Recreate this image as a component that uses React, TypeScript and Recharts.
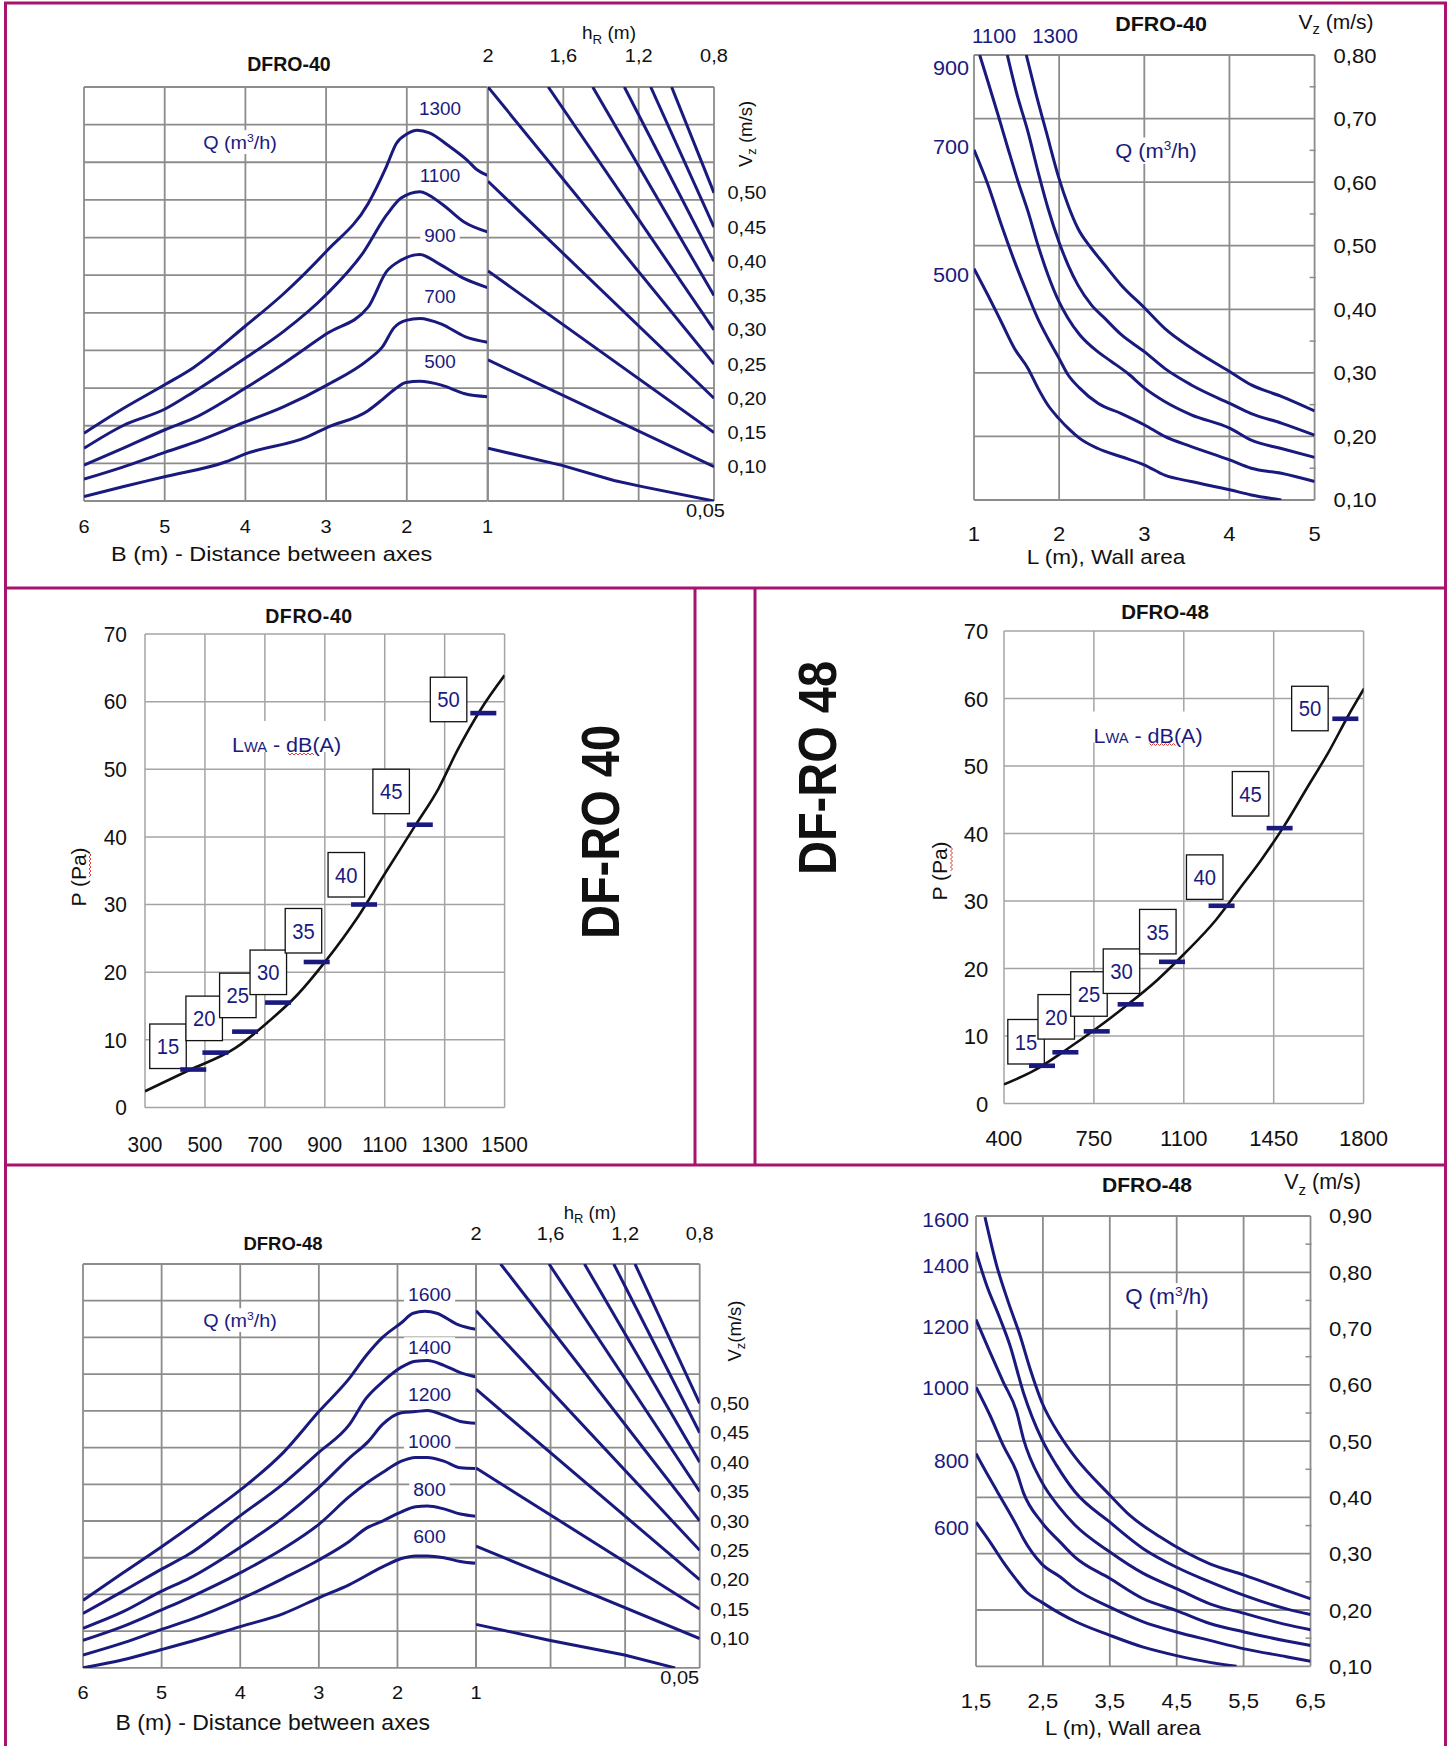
import React from 'react';
import { LineChart, ComposedChart, Line, Scatter, XAxis, YAxis, CartesianGrid } from 'recharts';

const FONT = '"Liberation Sans", Arial, Helvetica, sans-serif';
const NAVY = '#1a1a7e';
const INK = '#111111';
const GRID_DARK = '#8c8c8c';
const GRID_LIGHT = '#a4a4a4';
const FRAME = '#a6146e';
const SQUIGGLE = '#e23a3a';
const PAD = 90;

// ======================= DATA =======================
// --- Top-left: DFRO-40, Q curves vs B (m) (grid rows), lines vs hR (m) on Vz (m/s)
const A_GRID_ROWS = [0, 1, 2, 3, 4, 5, 6, 7, 8, 9, 10, 11];
const A_B_TICKS = [6, 5, 4, 3, 2, 1];
const A_HR_TICKS = [2, 1.6, 1.2, 0.8];
const A_VZ_TICKS = [0.05, 0.1, 0.15, 0.2, 0.25, 0.3, 0.35, 0.4, 0.45, 0.5];
const A_VZ_TOP = 0.6546;
const A_Q_NAMES = ['1300', '1100', '900', '700', '500'];
const A_Q1300 = [[6, 1.8], [5.52, 2.45], [4.99, 3.1], [4.64, 3.55], [4.0, 4.65], [3.53, 5.5], [2.99, 6.65], [2.48, 7.9], [2.25, 8.9], [2.13, 9.5], [2.0, 9.75], [1.87, 9.85], [1.72, 9.78], [1.49, 9.45], [1.25, 9.05], [1.13, 8.8], [1.0, 8.65]];
const A_Q1100 = [[6, 1.4], [5.52, 2.0], [4.99, 2.45], [4.64, 2.9], [4.0, 3.8], [3.53, 4.5], [2.99, 5.5], [2.54, 6.6], [2.25, 7.6], [2.07, 8.05], [1.84, 8.22], [1.57, 7.9], [1.28, 7.4], [1.0, 7.15]];
const A_Q900 = [[6, 0.95], [5.52, 1.4], [4.99, 1.9], [4.64, 2.2], [4.0, 3.0], [3.53, 3.65], [2.99, 4.45], [2.48, 5.15], [2.25, 6.1], [2.07, 6.4], [1.84, 6.55], [1.6, 6.3], [1.28, 5.9], [1.0, 5.67]];
const A_Q700 = [[6, 0.58], [5.52, 0.9], [4.99, 1.3], [4.64, 1.55], [4.0, 2.1], [3.53, 2.5], [2.99, 3.08], [2.48, 3.75], [2.3, 4.1], [2.16, 4.6], [2.01, 4.8], [1.84, 4.85], [1.57, 4.7], [1.28, 4.37], [1.0, 4.22]];
const A_Q500 = [[6, 0.12], [5.52, 0.38], [4.99, 0.65], [4.23, 1.05], [4.0, 1.25], [3.24, 1.7], [2.99, 1.95], [2.48, 2.4], [2.3, 2.7], [2.13, 3.0], [2.01, 3.15], [1.84, 3.18], [1.57, 3.08], [1.28, 2.85], [1.0, 2.77]];
const A_R1 = [[1.025, 0.6546], [0.8, 0.5]];
const A_R2 = [[1.136, 0.6546], [0.8, 0.45]];
const A_R3 = [[1.276, 0.6546], [0.8, 0.4]];
const A_R4 = [[1.444, 0.6546], [0.8, 0.35]];
const A_R5 = [[1.68, 0.6546], [0.8, 0.3]];
const A_R6 = [[2.0, 0.6546], [0.8, 0.25]];
const A_R7 = [[2.0, 0.517], [0.8, 0.2]];
const A_R8 = [[2.0, 0.386], [0.8, 0.15]];
const A_R9 = [[2.0, 0.256], [0.8, 0.1]];
const A_R10 = [[2.0, 0.127], [1.607, 0.102], [1.331, 0.08], [1.181, 0.071], [0.8, 0.05]];

// --- Top-right: DFRO-40, Vz vs L (m)
const B_L_TICKS = [1, 2, 3, 4, 5];
const B_VZ_TICKS = [0.1, 0.2, 0.3, 0.4, 0.5, 0.6, 0.7, 0.8];
const B_Q500 = [[1.0, 0.464], [1.164, 0.422], [1.321, 0.38], [1.477, 0.338], [1.634, 0.307], [1.751, 0.276], [1.869, 0.249], [1.998, 0.228], [2.104, 0.213], [2.241, 0.197], [2.456, 0.181], [2.73, 0.168], [3.004, 0.155], [3.239, 0.139], [3.552, 0.129], [4.002, 0.116], [4.256, 0.108], [4.609, 0.1]];
const B_Q700 = [[1.0, 0.651], [1.164, 0.596], [1.321, 0.533], [1.477, 0.475], [1.634, 0.422], [1.751, 0.385], [1.869, 0.354], [1.998, 0.323], [2.104, 0.297], [2.241, 0.276], [2.456, 0.252], [2.73, 0.236], [3.004, 0.218], [3.239, 0.2], [3.552, 0.184], [4.002, 0.163], [4.256, 0.15], [4.609, 0.142], [5.0, 0.129]];
const B_Q900 = [[1.067, 0.8], [1.164, 0.758], [1.282, 0.706], [1.399, 0.653], [1.517, 0.601], [1.634, 0.554], [1.751, 0.501], [1.869, 0.454], [1.998, 0.412], [2.104, 0.386], [2.241, 0.36], [2.456, 0.333], [2.613, 0.318], [2.808, 0.299], [3.004, 0.276], [3.239, 0.255], [3.552, 0.234], [4.002, 0.213], [4.256, 0.194], [4.609, 0.181], [5.0, 0.167]];
const B_Q1100 = [[1.391, 0.8], [1.497, 0.742], [1.634, 0.679], [1.751, 0.617], [1.869, 0.559], [1.998, 0.506], [2.104, 0.47], [2.221, 0.438], [2.378, 0.407], [2.534, 0.386], [2.73, 0.36], [3.004, 0.333], [3.239, 0.307], [3.552, 0.281], [4.002, 0.252], [4.256, 0.236], [4.609, 0.221], [5.0, 0.202]];
const B_Q1300 = [[1.614, 0.8], [1.732, 0.737], [1.849, 0.679], [1.998, 0.606], [2.104, 0.564], [2.221, 0.527], [2.378, 0.496], [2.534, 0.47], [2.73, 0.438], [3.004, 0.402], [3.239, 0.37], [3.552, 0.339], [4.002, 0.302], [4.256, 0.281], [4.609, 0.263], [5.0, 0.24]];

// --- Middle-left: DF-RO 40, P (Pa) vs Q
const C_Q_TICKS = [300, 500, 700, 900, 1100, 1300, 1500];
const C_P_TICKS = [0, 10, 20, 30, 40, 50, 60, 70];
const C_CURVE = [[300, 2.39], [445, 5.45], [602, 8.79], [705, 12.41], [807, 16.58], [902, 21.59], [1012, 28.27], [1106, 34.95], [1201, 41.62], [1280, 47.19], [1342, 52.75], [1421, 58.88], [1500, 63.88]];
const C_DB = [15, 20, 25, 30, 35, 40, 45, 50];
const C_MARK_Q = [461, 535, 634, 744, 873, 1031, 1217, 1429];
const C_MARK_P = [5.6, 8.1, 11.2, 15.5, 21.5, 30.0, 41.8, 58.3];

// --- Middle-right: DF-RO 48, P (Pa) vs Q
const D_Q_TICKS = [400, 750, 1100, 1450, 1800];
const D_P_TICKS = [0, 10, 20, 30, 40, 50, 60, 70];
const D_CURVE = [[400, 2.84], [518, 4.91], [642, 7.97], [757, 11.04], [872, 14.38], [996, 18.28], [1102, 22.19], [1225, 27.2], [1314, 31.66], [1402, 36.12], [1491, 41.14], [1579, 46.71], [1667, 52.29], [1738, 57.3], [1802, 61.48]];
const D_DB = [15, 20, 25, 30, 35, 40, 45, 50];
const D_MARK_Q = [548, 639, 761, 893, 1054, 1247, 1473, 1729];
const D_MARK_P = [5.6, 7.6, 10.7, 14.7, 21.0, 29.3, 40.8, 57.0];

// --- Bottom-left: DFRO-48
const E_GRID_ROWS = [0, 1, 2, 3, 4, 5, 6, 7, 8, 9, 10, 11];
const E_B_TICKS = [6, 5, 4, 3, 2, 1];
const E_HR_TICKS = [2, 1.6, 1.2, 0.8];
const E_VZ_TICKS = [0.05, 0.1, 0.15, 0.2, 0.25, 0.3, 0.35, 0.4, 0.45, 0.5];
const E_VZ_TOP = 0.737;
const E_Q_NAMES = ['1600', '1400', '1200', '1000', '800', '600'];
const E_Q1600 = [[6, 1.84], [5.49, 2.59], [5.0, 3.3], [4.53, 4.01], [3.99, 4.86], [3.45, 5.87], [3.0, 6.98], [2.61, 7.89], [2.4, 8.5], [2.19, 9.0], [1.95, 9.4], [1.8, 9.66], [1.65, 9.71], [1.5, 9.66], [1.23, 9.35], [1.0, 9.22]];
const E_Q1400 = [[6, 1.48], [5.49, 2.09], [5.0, 2.69], [4.65, 3.1], [3.99, 4.16], [3.45, 5.02], [3.0, 5.87], [2.61, 6.63], [2.4, 7.34], [2.19, 7.79], [1.95, 8.19], [1.77, 8.35], [1.62, 8.37], [1.41, 8.24], [1.2, 8.04], [1.0, 7.92]];
const E_Q1200 = [[6, 1.08], [5.49, 1.53], [5.0, 2.09], [4.65, 2.44], [3.99, 3.3], [3.45, 4.1], [3.0, 4.91], [2.61, 5.72], [2.37, 6.17], [2.19, 6.63], [1.95, 6.95], [1.77, 6.98], [1.62, 7.01], [1.41, 6.88], [1.2, 6.71], [1.0, 6.66]];
const E_Q1000 = [[6, 0.75], [5.49, 1.13], [5.0, 1.58], [4.65, 1.91], [3.99, 2.6], [3.45, 3.25], [3.0, 3.91], [2.61, 4.67], [2.4, 5.02], [2.19, 5.32], [1.95, 5.63], [1.77, 5.73], [1.62, 5.73], [1.41, 5.63], [1.2, 5.45], [1.0, 5.43]];
const E_Q800 = [[6, 0.35], [5.49, 0.68], [5.0, 1.05], [4.65, 1.3], [3.99, 1.88], [3.45, 2.44], [3.0, 2.94], [2.61, 3.45], [2.4, 3.8], [2.19, 4.0], [1.95, 4.25], [1.77, 4.39], [1.62, 4.41], [1.41, 4.33], [1.2, 4.19], [1.0, 4.13]];
const E_Q600 = [[6, 0.0], [5.49, 0.22], [5.0, 0.5], [4.53, 0.78], [3.99, 1.13], [3.45, 1.48], [3.0, 1.91], [2.61, 2.27], [2.19, 2.75], [1.95, 2.98], [1.77, 3.05], [1.62, 3.05], [1.41, 3.0], [1.2, 2.9], [1.0, 2.85]];
const E_R1 = [[1.147, 0.737], [0.8, 0.5]];
const E_R2 = [[1.261, 0.737], [0.8, 0.45]];
const E_R3 = [[1.418, 0.737], [0.8, 0.4]];
const E_R4 = [[1.608, 0.737], [0.8, 0.35]];
const E_R5 = [[1.868, 0.737], [0.8, 0.3]];
const E_R6 = [[2.0, 0.6575], [0.8, 0.25]];
const E_R7 = [[2.0, 0.524], [0.8, 0.2]];
const E_R8 = [[2.0, 0.39], [0.8, 0.15]];
const E_R9 = [[2.0, 0.257], [0.8, 0.1]];
const E_R10 = [[2.0, 0.124], [1.608, 0.097], [1.203, 0.072], [0.932, 0.05]];

// --- Bottom-right: DFRO-48, Vz vs L (m)
const F_L_TICKS = [1.5, 2.5, 3.5, 4.5, 5.5, 6.5];
const F_VZ_TICKS = [0.1, 0.2, 0.3, 0.4, 0.5, 0.6, 0.7, 0.8, 0.9];
const F_Q1600 = [[1.634, 0.898], [1.809, 0.812], [1.983, 0.747], [2.157, 0.688], [2.307, 0.629], [2.481, 0.57], [2.755, 0.51], [2.979, 0.472], [3.502, 0.404], [3.801, 0.368], [4.249, 0.33], [4.996, 0.282], [5.509, 0.262], [6.141, 0.235], [6.5, 0.22]];
const F_Q1400 = [[1.5, 0.836], [1.659, 0.777], [1.859, 0.718], [2.008, 0.67], [2.207, 0.587], [2.481, 0.504], [2.705, 0.457], [2.979, 0.41], [3.502, 0.356], [4.0, 0.309], [4.498, 0.276], [4.996, 0.25], [5.509, 0.226], [6.141, 0.202], [6.5, 0.192]];
const F_Q1200 = [[1.5, 0.716], [1.709, 0.658], [1.908, 0.605], [2.108, 0.552], [2.207, 0.505], [2.481, 0.428], [2.755, 0.381], [2.979, 0.351], [3.502, 0.303], [4.0, 0.265], [4.498, 0.238], [4.996, 0.211], [5.509, 0.194], [6.141, 0.174], [6.5, 0.165]];
const F_Q1000 = [[1.5, 0.596], [1.709, 0.546], [1.908, 0.492], [2.108, 0.445], [2.207, 0.409], [2.481, 0.356], [2.755, 0.321], [2.979, 0.294], [3.502, 0.256], [4.0, 0.22], [4.498, 0.199], [4.996, 0.176], [5.509, 0.161], [6.141, 0.145], [6.5, 0.137]];
const F_Q800 = [[1.5, 0.478], [1.709, 0.433], [1.908, 0.392], [2.108, 0.35], [2.207, 0.327], [2.481, 0.282], [2.755, 0.259], [2.979, 0.238], [3.502, 0.205], [4.0, 0.179], [4.498, 0.161], [4.996, 0.146], [5.509, 0.131], [6.141, 0.117], [6.5, 0.109]];
const F_Q600 = [[1.5, 0.356], [1.709, 0.321], [1.908, 0.285], [2.108, 0.253], [2.257, 0.232], [2.481, 0.214], [2.755, 0.194], [2.979, 0.18], [3.502, 0.155], [4.0, 0.134], [4.498, 0.119], [4.996, 0.107], [5.394, 0.1]];

// ======================= LAYOUT (positions, not data) =======================
type Box = { x: number; y: number; w: number; h: number };
const BOX_A_L: Box = { x: 84, y: 86.5, w: 403.5, h: 414 };
const BOX_A_R: Box = { x: 487.5, y: 86.5, w: 226, h: 414 };
const BOX_B: Box = { x: 974.4, y: 55, w: 340.6, h: 445 };
const BOX_C: Box = { x: 145.4, y: 633.9, w: 359.6, h: 473.4 };
const BOX_D: Box = { x: 1004.3, y: 630.9, w: 359.6, h: 472.6 };
const BOX_E_L: Box = { x: 82.6, y: 1263.9, w: 393.1, h: 403.9 };
const BOX_E_R: Box = { x: 475.7, y: 1263.9, w: 223.7, h: 403.9 };
const BOX_F: Box = { x: 976, y: 1215.7, w: 334.5, h: 450.3 };
// offset of each dB label box (right edge, bottom edge) from its marker
const C_BOX_OFF = [[-7, -1], [7, -12], [11, -14], [8.5, -8], [5, -9], [0.5, -7.5], [-10.4, -11], [-16.5, 8.6]];
const D_BOX_OFF = [[2.3, -1.8], [9.1, -13.2], [10.5, -15.1], [9.1, -10.9], [4.1, -7.9], [1.4, -6.4], [-10.8, -12.1], [-17.2, 12]];
const AX = 1; // every axis is 1px thick so that Recharts renders it

// ======================= HELPERS =======================
const pts = (a: number[][]) => a.map(([x, y]) => ({ x, y }));
const comma = (v: number) => String(v).replace('.', ',');
const vzFmt = (v: number) => v.toFixed(2).replace('.', ',');
const mids = (t: number[]) => t.slice(1).map((v, i) => (v + t[i]) / 2);

type TP = {
  x: number; y: number; fs: number; anchor?: 'start' | 'middle' | 'end'; sx?: number;
  w?: string | number; fill?: string; rot?: number; ls?: number; children?: React.ReactNode;
};
function T({ x, y, fs, anchor = 'middle', sx = 1, w = 'normal', fill = INK, rot = 0, ls = 0, children }: TP) {
  const tr = rot
    ? `translate(${x},${y}) rotate(${rot}) scale(1,${sx})`
    : `translate(${x},${y}) scale(${sx},1)`;
  return (
    <text transform={tr} y={fs * 0.357} textAnchor={anchor} fontSize={fs} fontFamily={FONT}
      fontWeight={w} fill={fill} letterSpacing={ls}>
      {children}
    </text>
  );
}

type TickOpt = {
  dx?: number; dy?: number; anchor?: 'start' | 'middle' | 'end'; fs: number; sx?: number;
  fmt: (v: number) => string;
  special?: (v: number) => { dx: number; dy: number; anchor: 'start' | 'middle' | 'end' } | null;
};
const mkTick = (o: TickOpt) => (p: any) => {
  const v = p.payload.value as number;
  const s = o.special ? o.special(v) : null;
  const dx = s ? s.dx : o.dx || 0;
  const dy = s ? s.dy : o.dy || 0;
  const anchor = s ? s.anchor : o.anchor || 'middle';
  return (
    <T x={p.x + dx} y={p.y + dy} fs={o.fs} sx={o.sx} anchor={anchor}>
      {o.fmt(v)}
    </T>
  );
};
const noTick = () => <g />;

function Holder({ box, children }: { box: Box; children: React.ReactNode }) {
  return (
    <div style={{ position: 'absolute', left: box.x - PAD, top: box.y - PAD }}>{children}</div>
  );
}
// n = number of 1px axes on each side
const dims = (box: Box, n: { t?: number; r?: number; b?: number; l?: number }) => ({
  width: box.w + 2 * PAD,
  height: box.h + 2 * PAD,
  margin: {
    top: PAD - (n.t || 0) * AX,
    right: PAD - (n.r || 0) * AX,
    bottom: PAD - (n.b || 0) * AX,
    left: PAD - (n.l || 0) * AX,
  },
});

const navyLine = (d: number[][], i: number, yId?: string, type: any = 'monotone') => (
  <Line key={i} data={pts(d)} dataKey="y" yAxisId={yId ?? 0} type={type} stroke={NAVY}
    strokeWidth={3} dot={false} activeDot={false} isAnimationActive={false} />
);

const markerShape = (offs: number[][]) => (p: any) => {
  const { cx, cy, payload } = p;
  const [ox, oy] = offs[payload.i];
  const bw = 36.5;
  const bh = 44.5;
  const bx = cx + ox - bw;
  const by = cy + oy - bh;
  return (
    <g>
      <rect x={bx} y={by} width={bw} height={bh} fill="#fff" stroke={INK} strokeWidth={1.3} />
      <T x={bx + bw / 2} y={by + bh / 2} fs={22} sx={0.92} fill={NAVY}>{payload.db}</T>
      <rect x={cx - 13} y={cy - 2.3} width={26} height={4.6} fill={NAVY} />
    </g>
  );
};

const minorLine = (c: string) => ({ stroke: c, strokeWidth: 1.5 });

// ======================= PANELS =======================
function PanelA() {
  const curves = [A_Q1300, A_Q1100, A_Q900, A_Q700, A_Q500];
  const lines = [A_R1, A_R2, A_R3, A_R4, A_R5, A_R6, A_R7, A_R8, A_R9, A_R10];
  return (
    <>
      <Holder box={BOX_A_L}>
        <LineChart {...dims(BOX_A_L, { b: 2, l: 1 })}>
          <CartesianGrid stroke={GRID_DARK} strokeWidth={1.8} />
          <XAxis type="number" dataKey="x" domain={[1, 6]} reversed ticks={A_B_TICKS} interval={0}
            height={AX} tickSize={0} tickMargin={0} axisLine={false} tickLine={false} allowDataOverflow
            tick={mkTick({ dy: 25.5, fs: 18.5, sx: 1.08, fmt: comma })} />
          <XAxis xAxisId="m" type="number" domain={[1, 6]} reversed ticks={mids(A_B_TICKS)} interval={0}
            height={AX} tickSize={-6} axisLine={false} tickLine={minorLine(GRID_DARK)}
            tick={noTick} allowDataOverflow />
          <YAxis type="number" domain={[0, 11]} ticks={A_GRID_ROWS} interval={0} width={AX}
            tick={noTick} axisLine={false} tickLine={false} allowDataOverflow />
          {curves.map((c, i) => navyLine(c, i))}
        </LineChart>
      </Holder>
      <Holder box={BOX_A_R}>
        <LineChart {...dims(BOX_A_R, { t: 2, l: 1, r: 1 })}>
          <CartesianGrid stroke={GRID_DARK} strokeWidth={1.8} />
          <XAxis type="number" dataKey="x" orientation="top" domain={[0.8, 2]} reversed ticks={A_HR_TICKS}
            interval={0} height={AX} tickSize={0} tickMargin={0} axisLine={false} tickLine={false}
            allowDataOverflow tick={mkTick({ dy: -31.2, fs: 18.5, sx: 1.08, fmt: comma })} />
          <XAxis xAxisId="m" type="number" orientation="top" domain={[0.8, 2]} reversed ticks={mids(A_HR_TICKS)}
            interval={0} height={AX} tickSize={-6} axisLine={false}
            tickLine={minorLine(GRID_DARK)} tick={noTick} allowDataOverflow />
          <YAxis type="number" domain={[0, 11]} ticks={A_GRID_ROWS} interval={0} width={AX}
            tick={noTick} axisLine={false} tickLine={false} allowDataOverflow />
          <YAxis yAxisId="vz" orientation="right" type="number" domain={[0.05, A_VZ_TOP]} ticks={A_VZ_TICKS}
            interval={0} width={AX} tickSize={0} tickMargin={0} axisLine={false} tickLine={false}
            allowDataOverflow
            tick={mkTick({
              dx: 13.5, anchor: 'start', fs: 18.5, sx: 1.08, fmt: vzFmt,
              special: (v) => (v < 0.07 ? { dx: -8.5, dy: 9.5, anchor: 'middle' } : null),
            })} />
          {lines.map((c, i) => navyLine(c, i, 'vz', 'linear'))}
        </LineChart>
      </Holder>
    </>
  );
}

function PanelB() {
  const curves = [B_Q500, B_Q700, B_Q900, B_Q1100, B_Q1300];
  return (
    <Holder box={BOX_B}>
      <LineChart {...dims(BOX_B, { b: 2, r: 2 })}>
        <CartesianGrid stroke={GRID_DARK} strokeWidth={1.8} />
        <XAxis type="number" dataKey="x" domain={[1, 5]} ticks={B_L_TICKS} interval={0}
          height={AX} tickSize={0} tickMargin={0} axisLine={false} tickLine={false} allowDataOverflow
          tick={mkTick({ dy: 33.6, fs: 21, sx: 1.05, fmt: comma })} />
        <XAxis xAxisId="m" type="number" domain={[1, 5]} ticks={mids(B_L_TICKS)} interval={0}
          height={AX} tickSize={-5} axisLine={false} tickLine={minorLine(GRID_DARK)}
          tick={noTick} allowDataOverflow />
        <YAxis orientation="right" type="number" domain={[0.1, 0.8]} ticks={B_VZ_TICKS} interval={0}
          width={AX} tickSize={0} tickMargin={0} axisLine={false} tickLine={false} allowDataOverflow
          tick={mkTick({ dx: 19, anchor: 'start', fs: 21, sx: 1.05, fmt: vzFmt })} />
        <YAxis yAxisId="m" orientation="right" type="number" domain={[0.1, 0.8]} ticks={mids(B_VZ_TICKS)}
          interval={0} width={AX} tickSize={-6} axisLine={false}
          tickLine={minorLine(GRID_DARK)} tick={noTick} allowDataOverflow />
        {curves.map((c, i) => navyLine(c, i))}
      </LineChart>
    </Holder>
  );
}

function PressurePanel({ box, qTicks, pTicks, curve, db, mq, mp, offs, dx, dy, fs, sx }: any) {
  const markers = db.map((d: number, i: number) => ({ x: mq[i], y: mp[i], db: d, i }));
  const dom = [qTicks[0], qTicks[qTicks.length - 1]];
  return (
    <Holder box={box}>
      <ComposedChart {...dims(box, { b: 2, l: 1 })}>
        <CartesianGrid stroke={GRID_LIGHT} strokeWidth={1.5} />
        <XAxis type="number" dataKey="x" domain={dom} ticks={qTicks} interval={0}
          height={AX} tickSize={0} tickMargin={0} axisLine={false} tickLine={false} allowDataOverflow
          tick={mkTick({ dy, fs, sx, fmt: (v) => String(v) })} />
        <XAxis xAxisId="m" type="number" domain={dom} ticks={mids(qTicks)} interval={0}
          height={AX} tickSize={6} axisLine={false} tickLine={minorLine(GRID_LIGHT)}
          tick={noTick} allowDataOverflow />
        <YAxis type="number" domain={[0, 70]} ticks={pTicks} interval={0} width={AX} tickSize={0}
          tickMargin={0} axisLine={false} tickLine={false} allowDataOverflow
          tick={mkTick({ dx, anchor: 'end', fs, sx, fmt: (v) => String(v) })} />
        <Line data={pts(curve)} dataKey="y" type="monotone" stroke={INK} strokeWidth={2.6}
          dot={false} activeDot={false} isAnimationActive={false} />
        <Scatter data={markers} dataKey="y" shape={markerShape(offs)} isAnimationActive={false} />
      </ComposedChart>
    </Holder>
  );
}

function PanelE() {
  const curves = [E_Q1600, E_Q1400, E_Q1200, E_Q1000, E_Q800, E_Q600];
  const lines = [E_R1, E_R2, E_R3, E_R4, E_R5, E_R6, E_R7, E_R8, E_R9, E_R10];
  return (
    <>
      <Holder box={BOX_E_L}>
        <LineChart {...dims(BOX_E_L, { b: 2, l: 1 })}>
          <CartesianGrid stroke={GRID_DARK} strokeWidth={1.8} />
          <XAxis type="number" dataKey="x" domain={[1, 6]} reversed ticks={E_B_TICKS} interval={0}
            height={AX} tickSize={0} tickMargin={0} axisLine={false} tickLine={false} allowDataOverflow
            tick={mkTick({ dy: 24.2, fs: 18.5, sx: 1.08, fmt: comma })} />
          <XAxis xAxisId="m" type="number" domain={[1, 6]} reversed ticks={mids(E_B_TICKS)} interval={0}
            height={AX} tickSize={-6} axisLine={false} tickLine={minorLine(GRID_DARK)}
            tick={noTick} allowDataOverflow />
          <YAxis type="number" domain={[0, 11]} ticks={E_GRID_ROWS} interval={0} width={AX}
            tick={noTick} axisLine={false} tickLine={false} allowDataOverflow />
          {curves.map((c, i) => navyLine(c, i))}
        </LineChart>
      </Holder>
      <Holder box={BOX_E_R}>
        <LineChart {...dims(BOX_E_R, { t: 2, l: 1, r: 1 })}>
          <CartesianGrid stroke={GRID_DARK} strokeWidth={1.8} />
          <XAxis type="number" dataKey="x" orientation="top" domain={[0.8, 2]} reversed ticks={E_HR_TICKS}
            interval={0} height={AX} tickSize={0} tickMargin={0} axisLine={false} tickLine={false}
            allowDataOverflow tick={mkTick({ dy: -30.9, fs: 18.5, sx: 1.08, fmt: comma })} />
          <XAxis xAxisId="m" type="number" orientation="top" domain={[0.8, 2]} reversed ticks={mids(E_HR_TICKS)}
            interval={0} height={AX} tickSize={-6} axisLine={false}
            tickLine={minorLine(GRID_DARK)} tick={noTick} allowDataOverflow />
          <YAxis type="number" domain={[0, 11]} ticks={E_GRID_ROWS} interval={0} width={AX}
            tick={noTick} axisLine={false} tickLine={false} allowDataOverflow />
          <YAxis yAxisId="vz" orientation="right" type="number" domain={[0.05, E_VZ_TOP]} ticks={E_VZ_TICKS}
            interval={0} width={AX} tickSize={0} tickMargin={0} axisLine={false} tickLine={false}
            allowDataOverflow
            tick={mkTick({
              dx: 10.6, anchor: 'start', fs: 18.5, sx: 1.08, fmt: vzFmt,
              special: (v) => (v < 0.07 ? { dx: -19.9, dy: 9.2, anchor: 'middle' } : null),
            })} />
          {lines.map((c, i) => navyLine(c, i, 'vz', 'linear'))}
        </LineChart>
      </Holder>
    </>
  );
}

function PanelF() {
  const curves = [F_Q1600, F_Q1400, F_Q1200, F_Q1000, F_Q800, F_Q600];
  return (
    <Holder box={BOX_F}>
      <LineChart {...dims(BOX_F, { b: 2, r: 2 })}>
        <CartesianGrid stroke={GRID_DARK} strokeWidth={1.8} />
        <XAxis type="number" dataKey="x" domain={[1.5, 6.5]} ticks={F_L_TICKS} interval={0}
          height={AX} tickSize={0} tickMargin={0} axisLine={false} tickLine={false} allowDataOverflow
          tick={mkTick({ dy: 34.4, fs: 21, sx: 1.05, fmt: comma })} />
        <XAxis xAxisId="m" type="number" domain={[1.5, 6.5]} ticks={mids(F_L_TICKS)} interval={0}
          height={AX} tickSize={-5} axisLine={false} tickLine={minorLine(GRID_DARK)}
          tick={noTick} allowDataOverflow />
        <YAxis orientation="right" type="number" domain={[0.1, 0.9]} ticks={F_VZ_TICKS} interval={0}
          width={AX} tickSize={0} tickMargin={0} axisLine={false} tickLine={false} allowDataOverflow
          tick={mkTick({ dx: 18.5, anchor: 'start', fs: 21, sx: 1.05, fmt: vzFmt })} />
        <YAxis yAxisId="m" orientation="right" type="number" domain={[0.1, 0.9]} ticks={mids(F_VZ_TICKS)}
          interval={0} width={AX} tickSize={-6} axisLine={false}
          tickLine={minorLine(GRID_DARK)} tick={noTick} allowDataOverflow />
        {curves.map((c, i) => navyLine(c, i))}
      </LineChart>
    </Holder>
  );
}

// ======================= OVERLAY TEXT =======================
function QUnit({ x, y, fs }: { x: number; y: number; fs: number }) {
  const w = 3.72 * fs * 1.04 + 6;
  return (
    <g>
      <rect x={x - w / 2} y={y - fs * 0.62} width={w} height={fs * 1.25} fill="#fff" />
      <T x={x} y={y} fs={fs} fill={NAVY} sx={1.04}>
        Q (m<tspan dy={-fs * 0.38} fontSize={fs * 0.62}>3</tspan>
        <tspan dy={fs * 0.38}>/h)</tspan>
      </T>
    </g>
  );
}
function Sub({ x, y, fs, a, b, c, rot = 0, anchor = 'middle' }: any) {
  return (
    <T x={x} y={y} fs={fs} rot={rot} anchor={anchor}>
      {a}<tspan dy={fs * 0.25} fontSize={fs * 0.7}>{b}</tspan>
      <tspan dy={-fs * 0.25}>{c}</tspan>
    </T>
  );
}
// spell-check style wavy underline
function Wavy({ x1, y1, len, vertical = false }: { x1: number; y1: number; len: number; vertical?: boolean }) {
  const n = Math.floor(len / 2);
  const p = Array.from({ length: n + 1 }, (_, i) => {
    const a = i * 2;
    const b = i % 2 === 0 ? -1 : 1;
    return vertical ? `${x1 + b},${y1 + a}` : `${x1 + a},${y1 + b}`;
  }).join(' ');
  return <polyline points={p} fill="none" stroke={SQUIGGLE} strokeWidth={1} />;
}
function Lwa({ x, y }: { x: number; y: number }) {
  return (
    <g>
      <rect x={x - 63} y={y - 24} width={126} height={31} fill="#fff" />
      <T x={x} y={y} fs={20.5} fill={NAVY} sx={1.05}>
        L<tspan fontSize={14}>WA</tspan> - dB(A)
      </T>
      <Wavy x1={x + 1.5} y1={y + 9} len={27} />
    </g>
  );
}
function PLabel({ x, y }: { x: number; y: number }) {
  return (
    <g>
      <T x={x} y={y} fs={21} rot={-90}>P (Pa)</T>
      <Wavy x1={x + 12} y1={y - 24} len={24} vertical />
    </g>
  );
}
function BgLabel({ x, y, s, fs }: { x: number; y: number; s: string; fs: number }) {
  const w = s.length * 0.556 * fs * 1.05 + 8;
  return (
    <g>
      <rect x={x - w / 2} y={y - 10.5} width={w} height={21} fill="#fff" />
      <T x={x} y={y} fs={fs} sx={1.05} fill={NAVY}>{s}</T>
    </g>
  );
}

function Overlay() {
  const aLabY = [109, 176, 236, 297, 362];
  const eLabY = [1294.7, 1347.7, 1394.7, 1441, 1489, 1536.6];
  const bLeft = [['900', 67.7], ['700', 146.7], ['500', 274.6]];
  const fLeft = [['1600', 1219.8], ['1400', 1265], ['1200', 1326], ['1000', 1387], ['800', 1460.7], ['600', 1527]];
  return (
    <svg width={1451} height={1746} style={{ position: 'absolute', left: 0, top: 0, pointerEvents: 'none' }}>
      <g stroke={FRAME} strokeWidth={3} fill="none">
        <line x1={4} y1={3} x2={1447} y2={3} />
        <line x1={5.5} y1={2} x2={5.5} y2={1746} />
        <line x1={1445.5} y1={2} x2={1445.5} y2={1746} />
        <line x1={4} y1={588} x2={1447} y2={588} />
        <line x1={4} y1={1165} x2={1447} y2={1165} />
        <line x1={695} y1={588} x2={695} y2={1165} />
        <line x1={755} y1={588} x2={755} y2={1165} />
      </g>

      {/* ---- top-left ---- */}
      <T x={289} y={64} fs={19.5} w="bold">DFRO-40</T>
      <QUnit x={240} y={142} fs={19} />
      {A_Q_NAMES.map((s, i) => <BgLabel key={s} x={440} y={aLabY[i]} s={s} fs={18} />)}
      <Sub x={609} y={32} fs={19} a="h" b="R" c=" (m)" />
      <T x={111} y={553} fs={21} sx={1.12} anchor="start">B (m) - Distance between axes</T>
      <Sub x={745} y={134} fs={18.5} a="V" b="z" c=" (m/s)" rot={-90} />

      {/* ---- top-right ---- */}
      <T x={1161} y={24} fs={19.5} sx={1.1} w="bold">DFRO-40</T>
      <Sub x={1336} y={21} fs={21} a="V" b="z" c=" (m/s)" />
      <T x={994} y={36} fs={20.5} fill={NAVY}>1100</T>
      <T x={1055} y={36} fs={20.5} fill={NAVY}>1300</T>
      {bLeft.map(([s, y]) => <T key={s as string} x={969} y={y as number} fs={21} sx={1.03} anchor="end" fill={NAVY}>{s}</T>)}
      <QUnit x={1156} y={150.5} fs={21} />
      <T x={1106} y={557} fs={20.5} sx={1.1}>L (m), Wall area</T>

      {/* ---- middle-left ---- */}
      <T x={309} y={616} fs={19.5} w="bold" ls={0.6}>DFRO-40</T>
      <PLabel x={78} y={877} />
      <Lwa x={286.5} y={745} />
      <T x={600} y={832} fs={47} sx={1.15} w="bold" rot={-90}>DF-RO 40</T>

      {/* ---- middle-right ---- */}
      <T x={1165} y={612} fs={19.5} sx={1.05} w="bold">DFRO-48</T>
      <PLabel x={939.5} y={871} />
      <Lwa x={1148} y={735.5} />
      <T x={817} y={768} fs={47} sx={1.15} w="bold" rot={-90}>DF-RO 48</T>

      {/* ---- bottom-left ---- */}
      <T x={283} y={1243} fs={18.5} w="bold">DFRO-48</T>
      <QUnit x={240} y={1320} fs={19} />
      {E_Q_NAMES.map((s, i) => <BgLabel key={s} x={429.5} y={eLabY[i]} s={s} fs={18.5} />)}
      <Sub x={590} y={1212} fs={18.5} a="h" b="R" c=" (m)" />
      <T x={115.6} y={1722.6} fs={21.5} sx={1.07} anchor="start">B (m) - Distance between axes</T>
      <Sub x={734} y={1331} fs={18.5} a="V" b="z" c="(m/s)" rot={-90} />

      {/* ---- bottom-right ---- */}
      <T x={1147} y={1184.6} fs={21} w="bold">DFRO-48</T>
      <Sub x={1322.6} y={1181.7} fs={21.5} a="V" b="z" c=" (m/s)" />
      {fLeft.map(([s, y]) => <T key={s as string} x={969} y={y as number} fs={21} anchor="end" fill={NAVY}>{s}</T>)}
      <QUnit x={1167} y={1296.5} fs={21.5} />
      <T x={1123} y={1728} fs={20.5} sx={1.08}>L (m), Wall area</T>
    </svg>
  );
}

export default function App() {
  return (
    <div style={{ position: 'absolute', left: 0, top: 0, width: 1451, height: 1746, background: '#fff', overflow: 'hidden' }}>
      <PanelA />
      <PanelB />
      <PressurePanel box={BOX_C} qTicks={C_Q_TICKS} pTicks={C_P_TICKS} curve={C_CURVE} db={C_DB}
        mq={C_MARK_Q} mp={C_MARK_P} offs={C_BOX_OFF} dx={-18} dy={36.5} fs={22} sx={0.95} />
      <PressurePanel box={BOX_D} qTicks={D_Q_TICKS} pTicks={D_P_TICKS} curve={D_CURVE} db={D_DB}
        mq={D_MARK_Q} mp={D_MARK_P} offs={D_BOX_OFF} dx={-15.8} dy={34} fs={22.5} sx={0.98} />
      <PanelE />
      <PanelF />
      <Overlay />
    </div>
  );
}
